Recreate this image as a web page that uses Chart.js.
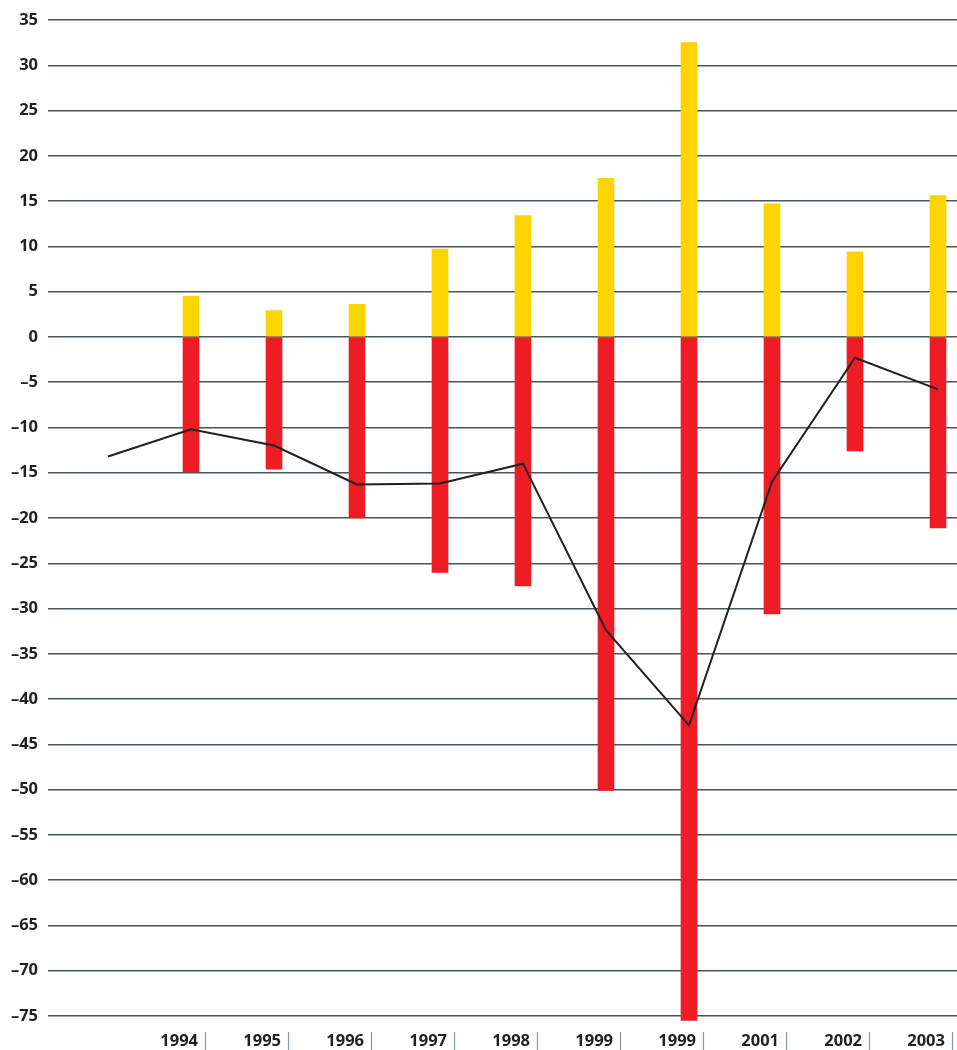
<!DOCTYPE html>
<html>
<head>
<meta charset="utf-8">
<script src="https://cdn.jsdelivr.net/npm/chart.js@4.4.0/dist/chart.umd.min.js"></script>
<style>
  html, body { margin: 0; padding: 0; background: #fff; }
  #wrap { width: 957px; height: 1050px; position: relative; }
</style>
</head>
<body>
<div id="wrap"><canvas id="chartBalance"></canvas></div>
<script>
const years = ['', '1994', '1995', '1996', '1997', '1998', '1999', '1999', '2001', '2002', '2003'];
const positive = [null, 4.5, 2.9, 3.6, 9.7, 13.4, 17.5, 32.5, 14.7, 9.4, 15.6];
const negative = [null, -14.9, -14.6, -20.0, -26.0, -27.5, -50.1, -75.5, -30.6, -12.6, -21.1];
const balance = [-13.2, -10.2, -12.0, -16.3, -16.2, -14.0, -32.4, -42.9, -16.0, -2.3, -5.8];
const yTicks = [35, 30, 25, 20, 15, 10, 5, 0, -5, -10, -15, -20, -25, -30, -35, -40, -45, -50, -55, -60, -65, -70, -75];

const toPoints = arr => arr.map((v, i) => ({ x: i, y: v })).filter(p => p.y !== null);

// year labels with a small separator to the right of each bar
const yearLabels = {
  id: 'yearLabels',
  afterDraw(chart) {
    const c = chart.ctx;
    const xs = chart.scales.x;
    c.save();
    c.font = '700 16.5px "Open Sans", sans-serif';
    c.fillStyle = '#231f20';
    c.textAlign = 'right';
    c.textBaseline = 'middle';
    years.forEach((y, i) => {
      if (!y) return;
      const px = xs.getPixelForValue(i);
      c.fillText(y, px + 7, 1041);
      c.strokeStyle = '#8a969e';
      c.lineWidth = 1.2;
      c.beginPath();
      c.moveTo(px + 14.5, 1032);
      c.lineTo(px + 14.5, 1050);
      c.stroke();
    });
    c.restore();
  }
};

const ctx = document.getElementById('chartBalance');

new Chart(ctx, {
  data: {
    datasets: [
      {
        type: 'line',
        data: toPoints(balance),
        borderColor: '#231f20',
        borderWidth: 2,
        pointRadius: 0,
        tension: 0,
        order: 0
      },
      {
        type: 'bar',
        data: toPoints(positive),
        backgroundColor: '#fdd300',
        barThickness: 16,
        grouped: false,
        order: 1
      },
      {
        type: 'bar',
        data: toPoints(negative),
        backgroundColor: '#ee1d25',
        barThickness: 16,
        grouped: false,
        clip: false,
        order: 1
      }
    ]
  },
  plugins: [yearLabels],
  options: {
    responsive: true,
    maintainAspectRatio: false,
    animation: false,
    layout: {
      padding: { top: 20, bottom: 34, left: 0, right: 0 }
    },
    plugins: {
      legend: { display: false },
      tooltip: { enabled: false }
    },
    scales: {
      x: {
        type: 'linear',
        min: -0.723,
        max: 10.229,
        offset: false,
        bounds: 'data',
        display: false
      },
      y: {
        min: -75,
        max: 35,
        afterFit: s => { s.width = 48; },
        afterBuildTicks: s => { s.ticks = yTicks.map(v => ({ value: v })); },
        border: { display: false },
        grid: {
          color: '#47555e',
          lineWidth: 1.5,
          drawTicks: false
        },
        ticks: {
          padding: 10,
          color: '#231f20',
          font: { family: '"Open Sans", sans-serif', size: 16.5, weight: 700 },
          callback: v => (v < 0 ? '\u2013' + Math.abs(v) : String(v))
        }
      }
    }
  }
});
</script>
</body>
</html>
